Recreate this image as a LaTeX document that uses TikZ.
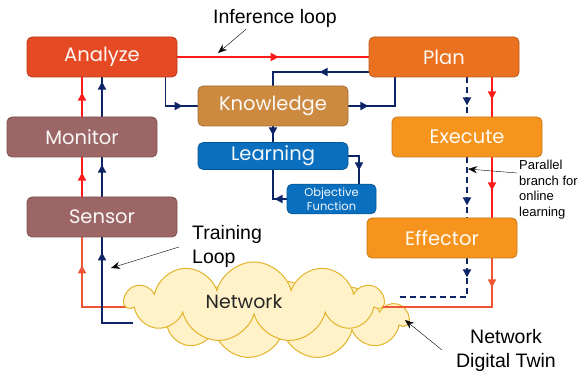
\documentclass[tikz,border=0pt]{standalone}
\usepackage{fontspec}
\setmainfont{Liberation Sans}
\newfontfamily\gotica{Poppins}
\usetikzlibrary{arrows.meta,shapes.symbols,decorations.markings,backgrounds}

% cores das caixas
\definecolor{corAnalise}{HTML}{E64A25}
\definecolor{corMonitor}{HTML}{9C6666}
\definecolor{corConhec}{HTML}{CC8A40}
\definecolor{corAprend}{HTML}{0A6FBE}
\definecolor{corPlano}{HTML}{EA711F}
\definecolor{corExec}{HTML}{F6941E}
\definecolor{corAzul}{HTML}{0D2466}
\definecolor{corVermelho}{HTML}{FF1A1A}
\definecolor{corLaranja}{HTML}{EE5535}
\definecolor{corNuvem}{HTML}{FFF2C8}
\definecolor{corNuvemBorda}{HTML}{E3B32A}

\begin{document}
\begin{tikzpicture}[x=1pt,y=-1pt]
%============================================================
%  Estilos das caixas, arcos e textos
%============================================================
\tikzset{ % Linha em branco nessa seção dá erro!
    % ---  Define caixas ------
    caixa/.style={ %
            rectangle,
            rounded corners=5pt,
            draw=#1!80!black, % borda um pouco mais escura
            fill=#1,
            line width=0.8pt,
            minimum width=150pt,
            minimum height=40pt,
            text=white!95!#1,
            font=\gotica\fontsize{19.5}{20}\selectfont
        },
    caixaPequena/.style={ %
            caixa=#1,
            minimum height=26pt
        },
    nuvem/.style={ %
            cloud, cloud puffs=11, aspect=3.4,
            draw=corNuvemBorda,
            fill=corNuvem,
            line width=1pt,
            minimum width=258pt,
            minimum height=80pt
        },
    % ---  Define arcos ------
    seta/.style={ % ponta no meio do arco
            postaction={decorate},
            decoration={markings,
              mark=at position #1 with {\arrow{Triangle[length=8pt,width=8pt]}}}
        },
    arcoVermelho/.style={ %
            corVermelho,
            line width=1.8pt
        },
    arcoLaranja/.style={ %
            corVermelho,
            draw=corLaranja, % linha mais alaranjada
            line width=1.8pt
        },
    arcoAzul/.style={ %
            corAzul,
            line width=1.8pt
        },
    arcoTracejado/.style={ %
            arcoAzul,
            dash pattern=on 6pt off 4pt
        },
    anotacao/.style={ %
            -{Stealth[length=9pt,width=7pt]},
            thin,
            black
        },
    texto/.style={ %
            inner sep=2pt,
            font=\fontsize{19.5}{24}\selectfont
        }
}

   % área da figura
   \useasboundingbox (0,0) rectangle (579,374);

   % caixas do laço
   \node[caixa=corAnalise] (ana) at (102,57) {Analyze};
   \node[caixa=corMonitor] (mon) at (82,137) {Monitor};
   \node[caixa=corMonitor] (sen) at (102,217) {Sensor};
   \node[caixa=corConhec] (know) at (273,106) {Knowledge};
   \node[caixaPequena=corAprend] (learn) at (273,156) {Learning};
   \node[caixaPequena=corAprend,minimum width=89pt,align=center,
         font=\gotica\fontsize{11.5}{14}\selectfont] (obj) at (331.5,199) {Objective\\Function};
   \node[caixa=corPlano] (plan) at (444,57) {Plan};
   \node[caixa=corExec] (exec) at (467,137) {Execute};
   \node[caixa=corExec] (eff) at (442,238) {Effector};

   % nuvem da rede (a de trás fica na camada de fundo)
   \node[nuvem,font=\gotica\fontsize{19}{20}\selectfont,text=black!85]
        (rede) at (254,302) {\hspace*{-20pt}\raisebox{-3pt}{Network}};

   % pontos onde os arcos entram na nuvem
   \coordinate (redeDirV) at (380,307);
   \coordinate (redeDirT) at (398,297);
   \coordinate (redeEsqV) at (127,307);
   \coordinate (redeEsqA) at (133,323);

   \begin{pgfonlayer}{background}
   \node[nuvem,minimum width=250pt,minimum height=78pt] (redeFundo) at (283,320) {};

   % laço de inferência (vermelho)
   \draw[arcoVermelho,seta=0.53] (ana.east) -- (plan.west);
   \draw[arcoVermelho,seta=22pt] (plan.south -| 492,0) -- (exec.north -| 492,0);
   \draw[arcoVermelho,seta=33pt] (exec.south -| 492,0) -- (eff.north -| 492,0);
   \draw[arcoLaranja,seta=29pt] (eff.south -| 492,0) |- (redeDirV);
   \draw[arcoLaranja,seta=-28pt] (redeEsqV) -| (sen.south -| mon.south);
   \draw[arcoVermelho,seta=24pt] (sen.north -| mon.south) -- (mon.south);
   \draw[arcoVermelho,seta=24pt] (mon.north) -- (ana.south -| mon.north);

   % laço de treino (azul)
   \draw[arcoAzul,seta=-15pt] (redeEsqA) -| (sen.south);
   \draw[arcoAzul,seta=32pt] (sen.north) -- (mon.south -| sen.north);
   \draw[arcoAzul,seta=35pt] (mon.north -| ana.south) -- (ana.south);
   \draw[arcoAzul,seta=-15pt] ([xshift=-12pt]ana.south east) |- (know.west);
   \draw[arcoAzul,seta=49pt] ([yshift=-15pt]plan.west) -| (know.north);
   \draw[arcoAzul,seta=20pt] (know.east) -| ([xshift=26pt]plan.south west);
   \draw[arcoAzul,seta=9pt] (know.south) -- (learn.north);
   \draw[arcoAzul,seta=25pt] (learn.east) -| ([xshift=27.5pt]obj.north);
   \draw[arcoAzul,seta=12pt] (obj.west) -| (learn.south);

   % ramo paralelo (tracejado)
   \draw[arcoTracejado,seta=28pt] (plan.south -| exec.north) -- (exec.north);
   \draw[arcoTracejado,seta=48pt] (exec.south) -- (eff.north -| exec.south);
   \draw[arcoTracejado,seta=19pt] (eff.south -| exec.south) |- (redeDirT);
   \end{pgfonlayer}

   % anotações
   \node[texto] (txtInf) at (275,18) {Inference loop};
   \coordinate (pInf) at (218,53);
   \draw[anotacao] ([xshift=35pt]txtInf.south west) -- (pInf);

   \node[texto,anchor=west,align=left] (txtTrein) at (190,246) {Training\\Loop};
   \coordinate (pTrein) at (111,268);
   \draw[anotacao] ([xshift=-11pt,yshift=-1pt]txtTrein.west) -- (pTrein);

   \node[texto,anchor=north west,align=left,
         font=\fontsize{13}{15.5}\selectfont] (txtPar) at (517,158) {Parallel\\branch for\\online\\learning};
   \coordinate (pPar) at (468,169);
   \draw[anotacao] ([yshift=-15pt]txtPar.north west) -- (pPar);

   \node[texto,align=center] (txtGemeo) at (506,350) {Network\\Digital Twin};
   \coordinate (pGemeo) at (405,320);
   \draw[anotacao] ([xshift=-12pt]txtGemeo.west) -- (pGemeo);
\end{tikzpicture}
\end{document}
